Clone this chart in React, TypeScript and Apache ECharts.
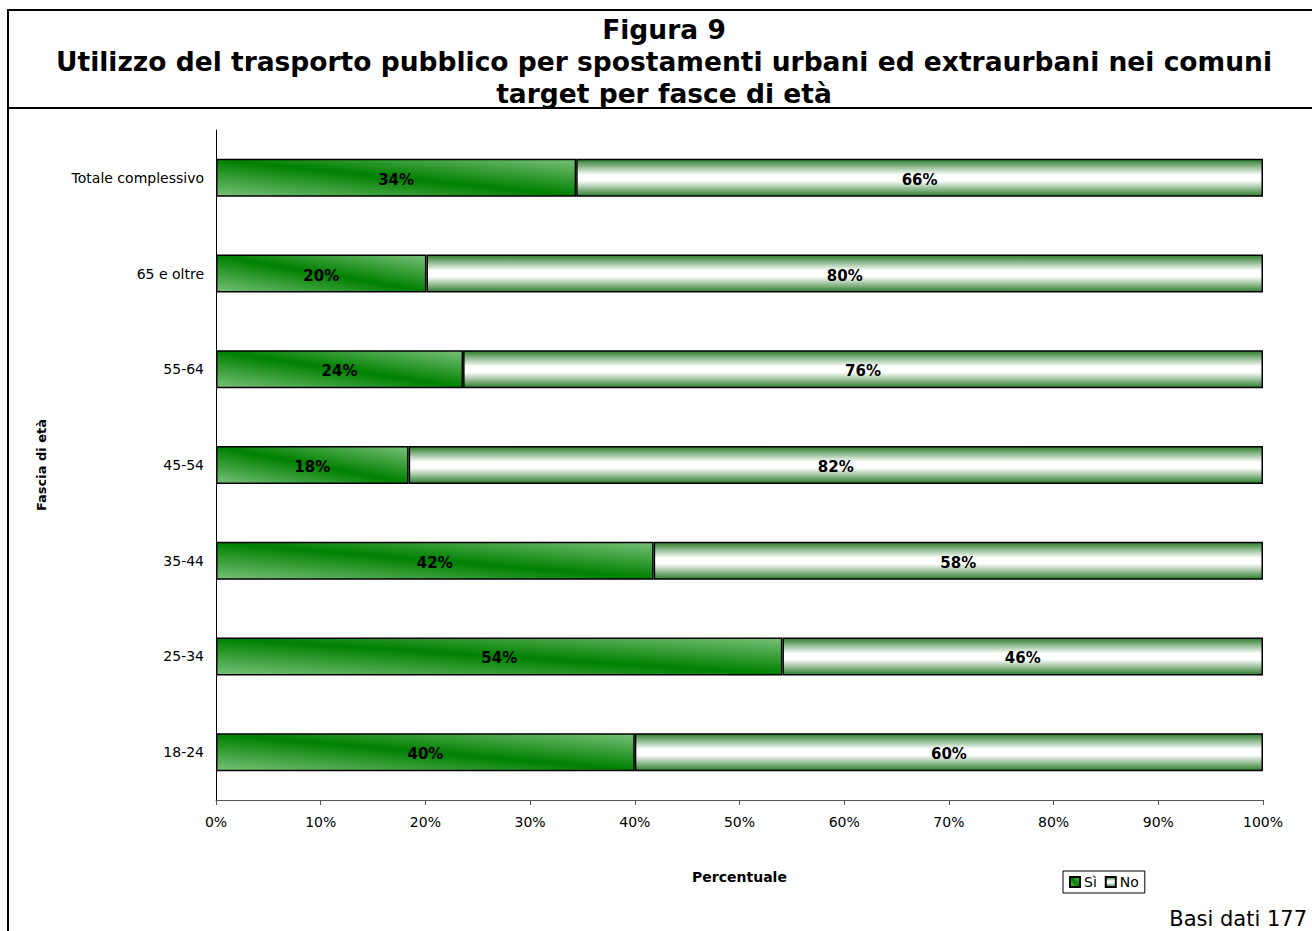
import React, { useEffect, useRef } from "react";
import * as echarts from "echarts";

const categories = ["18-24", "25-34", "35-44", "45-54", "55-64", "65 e oltre", "Totale complessivo"];
const siValues = [40.0, 54.1, 41.8, 18.4, 23.6, 20.1, 34.4];
const noValues = [60.0, 45.9, 58.2, 81.6, 76.4, 79.9, 65.6];
const xTicks = [0, 10, 20, 30, 40, 50, 60, 70, 80, 90, 100];

const FONT = "DejaVu Sans";

export default function App() {
  const ref = useRef<HTMLDivElement>(null);
  useEffect(() => {
    document.body.style.margin = "0";
    const chart = echarts.init(ref.current!, null, { renderer: "svg" });
    const siColor = new echarts.graphic.LinearGradient(0, 1, 1, 0, [
      { offset: 0, color: "#78c078" },
      { offset: 0.5, color: "#008000" },
      { offset: 1, color: "#78c078" },
    ]);
    const noColor = new echarts.graphic.LinearGradient(0, 0, 0, 1, [
      { offset: 0, color: "#2e7d2e" },
      { offset: 0.42, color: "#ffffff" },
      { offset: 0.58, color: "#ffffff" },
      { offset: 1, color: "#2e7d2e" },
    ]);
    const label = {
      show: true,
      position: "inside",
      color: "#000",
      fontFamily: FONT,
      fontWeight: "bold",
      fontSize: 15,
      offset: [0, 2],
      formatter: (p: any) => Math.round(p.value) + "%",
    };
    chart.setOption({
      animation: false,
      backgroundColor: "#fff",
      textStyle: { fontFamily: FONT },
      title: {
        text: "Figura 9\nUtilizzo del trasporto pubblico per spostamenti urbani ed extraurbani nei comuni\ntarget per fasce di età",
        left: 659,
        top: 8,
        textAlign: "center",
        textStyle: { fontFamily: FONT, fontWeight: "bold", fontSize: 26.5, lineHeight: 32, color: "#000" },
      },
      graphic: [
        { type: "rect", shape: { x: 8, y: 10, width: 1400, height: 1000 }, style: { fill: "none", stroke: "#000", lineWidth: 2 }, silent: true },
        { type: "line", shape: { x1: 8, y1: 108, x2: 1312, y2: 108 }, style: { stroke: "#000", lineWidth: 2 }, silent: true },
        {
          type: "text",
          right: 5,
          top: 908,
          style: { text: "Basi dati 177", fontFamily: FONT, fontSize: 21, fill: "#000" },
        },
      ],
      legend: {
        left: 1063,
        top: 871,
        orient: "horizontal",
        itemWidth: 10,
        itemHeight: 10,
        itemGap: 8,
        padding: [4, 6],
        borderColor: "#000",
        borderWidth: 1,
        icon: "rect",
        textStyle: { fontFamily: FONT, fontSize: 14, color: "#000", padding: [0, 0, 0, -1] },
        data: ["Sì", "No"],
      },
      grid: { left: 216, right: 49, top: 130, bottom: 131 },
      xAxis: {
        type: "value",
        min: 0,
        max: 100,
        interval: 10,
        name: "Percentuale",
        nameLocation: "middle",
        nameGap: 70,
        nameTextStyle: { fontFamily: FONT, fontWeight: "bold", fontSize: 14, color: "#000" },
        axisLine: { show: true, lineStyle: { color: "#555", width: 1 } },
        axisTick: { show: true, length: 5, lineStyle: { color: "#555" } },
        splitLine: { show: false },
        axisLabel: {
          fontFamily: FONT,
          fontSize: 14,
          color: "#000",
          margin: 15,
          formatter: (v: number) => (xTicks.includes(v) ? v + "%" : ""),
        },
      },
      yAxis: {
        type: "category",
        data: categories,
        name: "Fascia di età",
        nameLocation: "middle",
        nameGap: 168,
        nameRotate: 90,
        nameTextStyle: { fontFamily: FONT, fontWeight: "bold", fontSize: 13, color: "#000" },
        axisLine: { show: true, lineStyle: { color: "#000", width: 1 } },
        axisTick: { show: false },
        axisLabel: { fontFamily: FONT, fontSize: 14, color: "#000", margin: 12 },
      },
      series: [
        {
          name: "Sì",
          type: "bar",
          stack: "tot",
          barWidth: 38,
          data: siValues,
          itemStyle: { color: siColor, borderColor: "#000", borderWidth: 1.5 },
          label,
        },
        {
          name: "No",
          type: "bar",
          stack: "tot",
          barWidth: 38,
          data: noValues,
          itemStyle: { color: noColor, borderColor: "#000", borderWidth: 1.5 },
          label,
        },
      ],
    });
    return () => chart.dispose();
  }, []);
  return <div ref={ref} style={{ width: 1312, height: 931 }} />;
}
